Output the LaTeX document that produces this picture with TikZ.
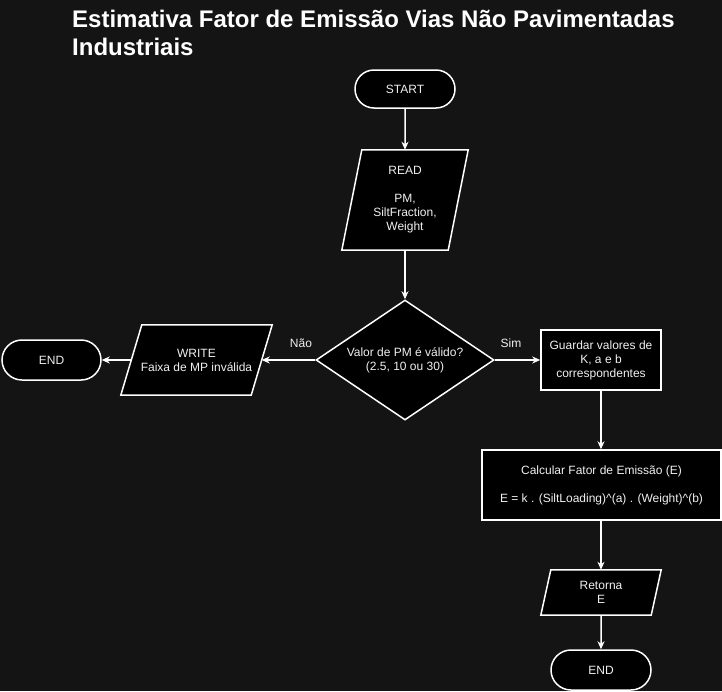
\documentclass[tikz,border=0pt]{standalone}
\usepackage{fontspec}
\setmainfont{Liberation Sans}
\usetikzlibrary{shapes.geometric,shapes.misc,arrows.meta}
\definecolor{bgc}{HTML}{141414}
\definecolor{txt}{HTML}{F0F0F0}
\pgfdeclarelayer{back}
\pgfsetlayers{back,main}
\begin{document}
\begin{tikzpicture}[x=1pt,y=-1pt,
  base/.style={text=txt,font=\fontsize{12}{14}\selectfont,align=center,inner sep=0pt},
  shp/.style={draw=white,fill=black,line width=1.5pt},
  term/.style={base,shp,rounded rectangle,minimum height=#1},
  box/.style={base,shp,rectangle},
  dia/.style={base,shp,diamond,shape aspect=1.483,minimum width=178pt,minimum height=120pt},
  paratext/.style={base,rectangle},
  para/.style={shp,line join=miter},
  arr/.style={draw=white,line width=1.5pt,-{Stealth[length=8pt,width=7pt,inset=2.5pt]}},
  lbl/.style={text=txt,font=\fontsize{12}{14}\selectfont,inner sep=0pt},
  ttl/.style={text=white,font=\fontsize{24}{28}\selectfont\bfseries,inner sep=0pt,anchor=base west}
]
\begin{pgfonlayer}{back}
\fill[bgc] (0,0) rectangle (722,691);
\end{pgfonlayer}
\useasboundingbox (0,0) rectangle (722,691);

\node[ttl] (t1) at (72,27.5) {Estimativa Fator de Emissão Vias Não Pavimentadas};
\node[ttl] (t2) at (72,55.5) {Industriais};

\node[term=38pt,minimum width=100pt] (start) at (405,89) {START};

\node[paratext,minimum width=106pt,minimum height=100pt] (read) at (405,200) {READ\\[14pt]PM,\\SiltFraction,\\Weight};
\begin{pgfonlayer}{back}
\draw[para] ([xshift=10pt]read.north west) -- ([xshift=10pt]read.north east) -- ([xshift=-10pt]read.south east) -- ([xshift=-10pt]read.south west) -- cycle;
\end{pgfonlayer}

\node[dia] (dec) at (405,360) {Valor de PM é válido?\\(2.5, 10 ou 30)};

\node[paratext,minimum width=130pt,minimum height=70pt] (write) at (196.5,360) {WRITE\\Faixa de MP inválida};
\begin{pgfonlayer}{back}
\draw[para] ([xshift=10.5pt]write.north west) -- ([xshift=10.5pt]write.north east) -- ([xshift=-10.5pt]write.south east) -- ([xshift=-10.5pt]write.south west) -- cycle;
\end{pgfonlayer}

\node[term=40pt,minimum width=99pt] (endl) at (51.5,360) {END};

\node[box,minimum width=120pt,minimum height=60pt] (guard) at (601,360) {Guardar valores de\\K, a e b\\correspondentes};

\node[box,minimum width=239pt,minimum height=70pt] (calc) at (601.5,485) {Calcular Fator de Emissão (E)\\[14pt]E = k . (SiltLoading)\^{}(a) . (Weight)\^{}(b)};

\node[paratext,minimum width=110pt,minimum height=45pt] (ret) at (601,592.5) {Retorna\\E};
\begin{pgfonlayer}{back}
\draw[para] ([xshift=5pt]ret.north west) -- ([xshift=5pt]ret.north east) -- ([xshift=-5pt]ret.south east) -- ([xshift=-5pt]ret.south west) -- cycle;
\end{pgfonlayer}

\node[term=40pt,minimum width=100pt] (endb) at (601,670) {END};

\draw[arr] (start) -- (read);
\draw[arr] (read) -- (dec);
\draw[arr] (dec.west) -- (write.east);
\draw[arr] (write.west) -- (endl.east);
\draw[arr] (dec.east) -- (guard.west);
\draw[arr] (guard) -- (calc.north -| guard);
\draw[arr] (calc.south -| ret) -- (ret);
\draw[arr] (ret) -- (endb);

\node[lbl] (nao) at (301,343) {Não};
\node[lbl] (sim) at (511,343) {Sim};
\end{tikzpicture}
\end{document}
